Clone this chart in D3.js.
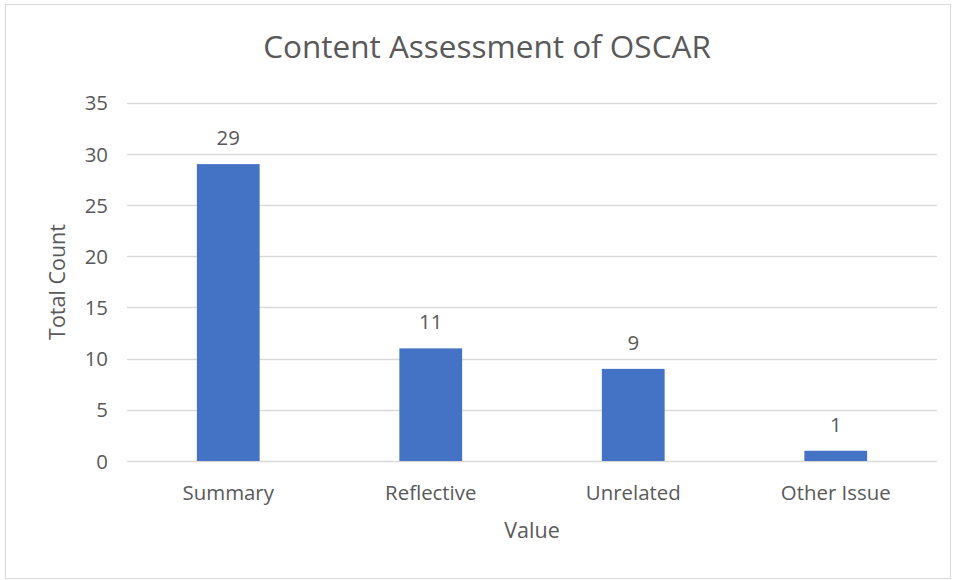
<!DOCTYPE html>
<html><head><meta charset="utf-8">
<script src="https://cdn.jsdelivr.net/npm/d3@7"></script>
<style>body{margin:0;background:#fff}svg{display:block}text{font-family:"Open Sans",sans-serif;fill:#595959}</style>
</head><body><svg id="c" width="956" height="580"></svg>
<script>
const categories = ["Summary","Reflective","Unrelated","Other Issue"];
const values = [29, 11, 9, 1];
const yTicks = [0,5,10,15,20,25,30,35];
const title = "Content Assessment of OSCAR";
const xTitle = "Value", yTitle = "Total Count";

const svg = d3.select("#c");
svg.append("rect").attr("x",5.5).attr("y",4.5).attr("width",945).attr("height",574)
  .attr("fill","#fff").attr("stroke","#d9d9d9").attr("stroke-width",1);

const L=127, R=937, T=102.7, B=461;
const x = d3.scaleBand().domain(categories).range([L,R]).paddingInner(0.69).paddingOuter(0.345);
const y = d3.scaleLinear().domain([0,35]).range([B,T]);

const grid = svg.append("g");
grid.selectAll("line").data(yTicks).join("line")
  .attr("x1",L).attr("x2",R).attr("y1",d=>Math.round(y(d))+0.5).attr("y2",d=>Math.round(y(d))+0.5)
  .attr("stroke","#d9d9d9").attr("stroke-width",1.3);

const yAxis = d3.axisLeft(y).tickValues(yTicks).tickSize(0).tickPadding(0);
const ya = svg.append("g").attr("transform",`translate(${L-19},0)`).call(yAxis);
ya.select(".domain").remove();
ya.selectAll("text").attr("font-size",20.4).attr("fill","#595959").attr("font-family","Open Sans").attr("dy","0.35em");

svg.append("g").selectAll("rect").data(values).join("rect")
  .attr("x",(d,i)=>x(categories[i])).attr("width",x.bandwidth())
  .attr("y",d=>y(d)).attr("height",d=>B-y(d)).attr("fill","#4472C4");

svg.append("g").selectAll("text").data(values).join("text")
  .attr("x",(d,i)=>x(categories[i])+x.bandwidth()/2).attr("y",d=>y(d)-19)
  .attr("text-anchor","middle").attr("font-size",20.4).text(d=>d);

const xAxis = d3.axisBottom(x).tickSize(0).tickPadding(0);
const xa = svg.append("g").attr("transform",`translate(0,${B})`).call(xAxis);
xa.select(".domain").remove();
xa.selectAll("text").attr("font-size",20.4).attr("fill","#595959").attr("font-family","Open Sans").attr("dy",0).attr("y",39);

svg.append("text").attr("x",487).attr("y",58).attr("text-anchor","middle").attr("font-size",31.5).text(title);
svg.append("text").attr("x",532).attr("y",538).attr("text-anchor","middle").attr("font-size",21.5).text(xTitle);
svg.append("text").attr("transform","translate(65,282) rotate(-90)").attr("text-anchor","middle").attr("font-size",21.5).text(yTitle);
</script></body></html>
